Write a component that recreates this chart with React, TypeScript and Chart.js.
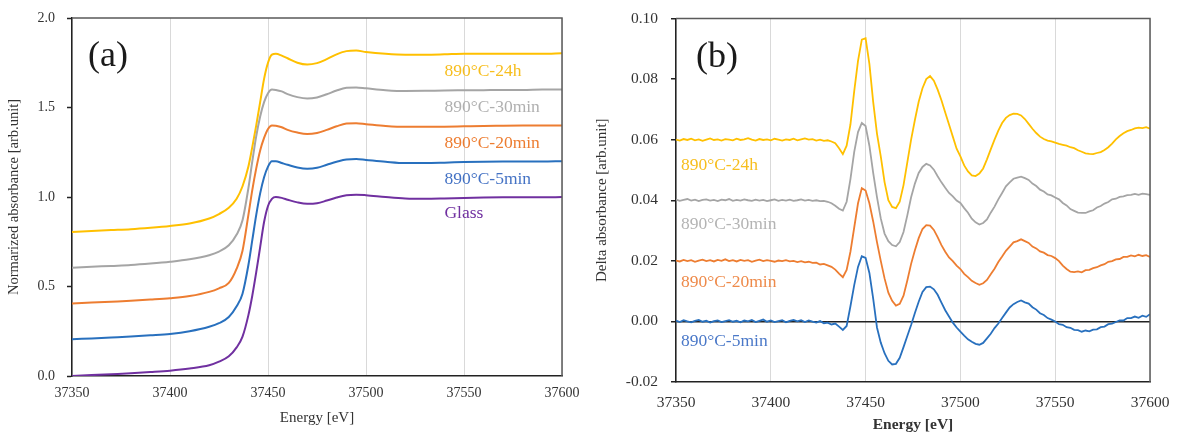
import React, { useEffect, useRef } from 'react';
import { Chart, registerables } from 'chart.js';

Chart.register(...registerables);

// ---------- Panel (a): normalized XANES ----------
const energyA = [
  37350, 37360, 37370, 37380, 37390, 37400, 37410, 37420, 37425, 37430,
  37434, 37437, 37440, 37442, 37444, 37446, 37448, 37450, 37452, 37454,
  37457, 37460, 37465, 37470, 37475, 37480, 37485, 37490, 37495, 37500,
  37510, 37520, 37530, 37540, 37550, 37560, 37570, 37580, 37590, 37600,
];
const glassA = [
  0.0, 0.005, 0.01, 0.015, 0.022, 0.03, 0.042, 0.06, 0.08, 0.11,
  0.16, 0.22, 0.34, 0.45, 0.58, 0.72, 0.86, 0.95, 0.99, 1.0,
  0.995, 0.985, 0.97, 0.962, 0.965, 0.98, 0.997, 1.01, 1.013, 1.01,
  1.0, 0.992, 0.99, 0.992, 0.995, 0.997, 0.998, 0.998, 0.998, 1.0,
];
const min5A = [
  0.205, 0.21, 0.215, 0.22, 0.227, 0.235, 0.25, 0.275, 0.295, 0.33,
  0.39, 0.46, 0.62, 0.76, 0.9, 1.02, 1.11, 1.17, 1.2, 1.2,
  1.19, 1.18, 1.165, 1.158, 1.163, 1.18, 1.197, 1.21, 1.212, 1.207,
  1.197, 1.19, 1.19, 1.192, 1.195, 1.197, 1.198, 1.198, 1.198, 1.2,
];
const min20A = [
  0.405, 0.41, 0.415, 0.42, 0.427, 0.435, 0.447, 0.47, 0.49, 0.52,
  0.6, 0.7, 0.9, 1.04, 1.16, 1.26, 1.33, 1.38, 1.4, 1.398,
  1.39, 1.375, 1.36, 1.352, 1.358, 1.375, 1.395, 1.41, 1.412, 1.407,
  1.397, 1.392, 1.392, 1.393, 1.395, 1.397, 1.398, 1.399, 1.4, 1.4,
];
const min30A = [
  0.605, 0.61, 0.615, 0.62, 0.628, 0.638, 0.652, 0.675, 0.695, 0.73,
  0.79, 0.87, 1.05, 1.2, 1.34, 1.45, 1.53, 1.58, 1.6, 1.598,
  1.59, 1.575, 1.558, 1.55, 1.556, 1.574, 1.595, 1.61, 1.612, 1.607,
  1.597, 1.592, 1.593, 1.595, 1.596, 1.597, 1.598, 1.598, 1.6, 1.6,
];
const h24A = [
  0.805, 0.81, 0.815, 0.82, 0.828, 0.838, 0.852, 0.88, 0.905, 0.94,
  0.99, 1.06, 1.17, 1.28, 1.4, 1.53, 1.66, 1.75, 1.795, 1.8,
  1.79, 1.775, 1.75, 1.74, 1.748, 1.77, 1.797, 1.815, 1.818, 1.81,
  1.8, 1.795, 1.795, 1.797, 1.8, 1.8, 1.8, 1.8, 1.8, 1.803,
];

// ---------- Panel (b): delta absorbance ----------
const energyB = [
  37350, 37352, 37354, 37356, 37358, 37360, 37362, 37364, 37366, 37368,
  37370, 37372, 37374, 37376, 37378, 37380, 37382, 37384, 37386, 37388,
  37390, 37392, 37394, 37396, 37398, 37400, 37402, 37404, 37406, 37408,
  37410, 37412, 37414, 37416, 37418, 37420, 37422, 37424, 37426, 37428,
  37430, 37432, 37434, 37436, 37438, 37440, 37442, 37444, 37446, 37448,
  37450, 37452, 37454, 37456, 37458, 37460, 37462, 37464, 37466, 37468,
  37470, 37472, 37474, 37476, 37478, 37480, 37482, 37484, 37486, 37488,
  37490, 37492, 37494, 37496, 37498, 37500, 37502, 37504, 37506, 37508,
  37510, 37512, 37514, 37516, 37518, 37520, 37522, 37524, 37526, 37528,
  37530, 37532, 37534, 37536, 37538, 37540, 37542, 37544, 37546, 37548,
  37550, 37552, 37554, 37556, 37558, 37560, 37562, 37564, 37566, 37568,
  37570, 37572, 37574, 37576, 37578, 37580, 37582, 37584, 37586, 37588,
  37590, 37592, 37594, 37596, 37598, 37600,
];
const min5B = [
  0.0003, -0.0002, 0.0004, 0.0, -0.0003, 0.0002, 0.0005, -0.0001, 0.0002, -0.0004,
  0.0001, 0.0003, -0.0002, 0.0001, 0.0004, -0.0001, 0.0002, -0.0003, 0.0003, 0.0,
  0.0005, -0.0002, 0.0002, 0.0006, -0.0001, 0.0003, -0.0002, 0.0001, 0.0004, -0.0003,
  0.0002, 0.0005, 0.0, 0.0004, -0.0002, 0.0003, -0.0001, -0.0004, 0.0001, -0.0006,
  -0.0004, -0.001, -0.0007, -0.0017, -0.0028, -0.0015, 0.005, 0.012, 0.018, 0.0215,
  0.021, 0.016, 0.0075, -0.002, -0.007, -0.0105, -0.013, -0.0142, -0.014, -0.012,
  -0.0085, -0.0048, -0.0012, 0.0028, 0.0065, 0.0097, 0.0113, 0.0115, 0.0106, 0.0088,
  0.0062, 0.0037, 0.0016, -0.0004, -0.002, -0.0034, -0.0047, -0.0059, -0.0067, -0.0074,
  -0.0077, -0.0071, -0.0056, -0.0041, -0.0022, -0.0007, 0.0011, 0.0029, 0.0046, 0.0057,
  0.0064, 0.0069, 0.0063, 0.0059, 0.0047, 0.0039, 0.0027, 0.0021, 0.0011, 0.0006,
  0.0, -0.0009, -0.0011, -0.0019, -0.0021, -0.0028, -0.0029, -0.0034, -0.003, -0.0033,
  -0.0027, -0.0026, -0.0019, -0.0017, -0.0009, -0.0007, -0.0002, 0.0003, 0.0003, 0.0011,
  0.0011, 0.0016, 0.0012, 0.0019, 0.0015, 0.0024,
];
const min20B = [
  0.0201, 0.0198, 0.0203, 0.0199, 0.0202, 0.0197, 0.0201, 0.0204, 0.0199, 0.0202,
  0.0198, 0.0203, 0.02, 0.0205, 0.0199, 0.0202, 0.0198, 0.0203, 0.02, 0.0202,
  0.0197, 0.0201, 0.0204, 0.0199, 0.0202, 0.02, 0.0197, 0.0201, 0.0199, 0.0202,
  0.0198, 0.02, 0.0196, 0.0199, 0.0195, 0.0197, 0.0193, 0.0194, 0.0188, 0.019,
  0.0185, 0.018, 0.0171, 0.0158, 0.0146, 0.017, 0.023, 0.031, 0.039, 0.044,
  0.0432, 0.039, 0.033, 0.0262, 0.02, 0.0142, 0.0095, 0.0068, 0.0052, 0.0058,
  0.0085, 0.0135, 0.019, 0.0235, 0.0275, 0.0305, 0.0318, 0.0316, 0.0302, 0.0278,
  0.0252, 0.023, 0.0211, 0.0199, 0.0184, 0.0173, 0.0157, 0.0146, 0.0134, 0.0127,
  0.0121, 0.0126, 0.0137, 0.0156, 0.0174, 0.0196, 0.0214, 0.0233, 0.0247, 0.0261,
  0.0265, 0.0271, 0.0265, 0.0259, 0.0247, 0.0241, 0.0231, 0.0227, 0.0219, 0.0216,
  0.0209, 0.0199, 0.0184, 0.0173, 0.0164, 0.0163, 0.0165, 0.0162, 0.0169, 0.017,
  0.0176, 0.0179, 0.0185, 0.0189, 0.0197, 0.0199, 0.0205, 0.0206, 0.0213, 0.0213,
  0.0218, 0.0215, 0.022, 0.0216, 0.0219, 0.0213,
];
const min30B = [
  0.0402, 0.0398, 0.0401, 0.0404, 0.0399, 0.0402, 0.0397, 0.0401, 0.0403, 0.0399,
  0.0401, 0.0397, 0.0402, 0.04, 0.0404, 0.0398, 0.0401, 0.0399, 0.0403, 0.04,
  0.0398, 0.0402, 0.0399, 0.0401, 0.0397, 0.04, 0.0403, 0.0398, 0.0401, 0.0399,
  0.0402, 0.0398, 0.04, 0.0403, 0.0399, 0.0401, 0.0398, 0.04, 0.0397, 0.0398,
  0.0395, 0.039, 0.0382, 0.0372, 0.0366, 0.0395, 0.047, 0.056, 0.0625, 0.0655,
  0.0645, 0.058, 0.049, 0.041, 0.034, 0.029, 0.0265, 0.0252, 0.0248, 0.0262,
  0.0295, 0.035, 0.041, 0.0455, 0.049, 0.051, 0.052, 0.0515, 0.0501, 0.0479,
  0.0459, 0.0441, 0.0424, 0.0413, 0.0399, 0.0391, 0.0374, 0.0359, 0.0339, 0.0327,
  0.032, 0.0325, 0.0337, 0.0359, 0.0379, 0.0403, 0.0424, 0.0446, 0.0459, 0.0471,
  0.0475, 0.0478, 0.0473, 0.0467, 0.0455, 0.0447, 0.0435, 0.0429, 0.0419, 0.0416,
  0.0409, 0.0403, 0.0391, 0.0383, 0.0371, 0.0365, 0.0359, 0.0358, 0.0358, 0.0363,
  0.0367, 0.0376, 0.0381, 0.0389, 0.0394, 0.0403, 0.0405, 0.0411, 0.0413, 0.0417,
  0.0418, 0.0421, 0.0418, 0.0422, 0.042, 0.0418,
];
const h24B = [
  0.06, 0.0597, 0.0602, 0.0599, 0.0603, 0.0598, 0.0601, 0.0596, 0.06, 0.0604,
  0.0599, 0.0601, 0.0597, 0.0602, 0.06, 0.0598, 0.0603, 0.0599, 0.0601, 0.0605,
  0.06, 0.0597, 0.0602, 0.0599, 0.0601, 0.0598, 0.0603, 0.06, 0.0597, 0.0601,
  0.0599, 0.0603, 0.0598, 0.0601, 0.0604, 0.06, 0.0602, 0.0597, 0.06, 0.0596,
  0.0598, 0.0594, 0.0588, 0.0572, 0.0552, 0.058, 0.065, 0.076, 0.086, 0.093,
  0.0935, 0.085, 0.0725, 0.062, 0.0545, 0.046, 0.04, 0.0378, 0.0374, 0.0395,
  0.045, 0.0525, 0.06, 0.0665, 0.0725, 0.077, 0.08, 0.081, 0.0795, 0.0765,
  0.073, 0.069, 0.065, 0.061, 0.057, 0.0545, 0.0515, 0.0495, 0.0482, 0.048,
  0.0488, 0.0505, 0.0535, 0.0568, 0.06, 0.063, 0.0655, 0.0672, 0.0681, 0.0686,
  0.0685, 0.068, 0.0668, 0.0652, 0.0636, 0.0622, 0.061, 0.0602, 0.0597, 0.0594,
  0.059, 0.0586, 0.0583, 0.058, 0.0575, 0.0572, 0.0565, 0.056, 0.0555, 0.0553,
  0.0552, 0.0556, 0.0559, 0.0566, 0.0575, 0.0587, 0.0601, 0.0612, 0.0621, 0.0628,
  0.0632, 0.0637, 0.064, 0.0638, 0.0641, 0.0636,
];

const SERIF = '"Liberation Serif", "Times New Roman", serif';

const pts = (xs: number[], ys: number[]) => xs.map((x, i) => ({ x, y: ys[i] }));

type Note = { text: string; x: number; y: number; color: string };

function decorPlugin(panel: string, dx: number, dy: number, notes: Note[], noteSize: number) {
  return {
    id: 'decor',
    afterDraw(chart: any) {
      const { ctx, chartArea: a, scales } = chart;
      ctx.save();
      ctx.strokeStyle = '#5a5a5a';
      ctx.lineWidth = 1.5;
      ctx.beginPath();
      ctx.moveTo(a.left, a.top);
      ctx.lineTo(a.right, a.top);
      ctx.lineTo(a.right, a.bottom);
      ctx.stroke();
      ctx.font = `${noteSize}px ${SERIF}`;
      ctx.textBaseline = 'middle';
      ctx.textAlign = 'left';
      for (const n of notes) {
        ctx.fillStyle = n.color;
        ctx.fillText(n.text, scales.x.getPixelForValue(n.x), scales.y.getPixelForValue(n.y));
      }
      ctx.font = `36px ${SERIF}`;
      ctx.fillStyle = '#1a1a1a';
      ctx.textAlign = 'center';
      ctx.fillText(panel, a.left + dx, a.top + dy);
      ctx.restore();
    },
  };
}

function lineDs(label: string, data: any[], color: string, width: number, smooth: boolean) {
  return {
    label,
    data,
    borderColor: color,
    backgroundColor: color,
    borderWidth: width,
    pointRadius: 0,
    fill: false,
    ...(smooth ? { cubicInterpolationMode: 'monotone' as const } : { tension: 0 }),
  };
}

export default function App() {
  const refA = useRef<HTMLCanvasElement>(null);
  const refB = useRef<HTMLCanvasElement>(null);

  useEffect(() => {
    const tickColor = '#333';
    const chartA = new Chart(refA.current as HTMLCanvasElement, {
      type: 'line',
      data: {
        datasets: [
          lineDs('Glass', pts(energyA, glassA), '#7030A0', 2, true),
          lineDs('890°C-5min', pts(energyA, min5A), '#2870BE', 2, true),
          lineDs('890°C-20min', pts(energyA, min20A), '#ED7D31', 2, true),
          lineDs('890°C-30min', pts(energyA, min30A), '#A5A5A5', 2, true),
          lineDs('890°C-24h', pts(energyA, h24A), '#FFC000', 2, true),
        ],
      },
      options: {
        responsive: false,
        animation: false,
        layout: { padding: { left: 0, right: 18, top: 18, bottom: 0 } },
        plugins: { legend: { display: false }, tooltip: { enabled: false } },
        scales: {
          x: {
            type: 'linear',
            min: 37350,
            max: 37600,
            afterFit: (s: any) => { s.height = 59; s.paddingLeft = 0; s.paddingRight = 0; },
            ticks: { stepSize: 50, callback: (v: any) => String(v), font: { family: SERIF, size: 14 }, color: tickColor, padding: 9, maxRotation: 0, autoSkip: false },
            grid: { color: '#D9D9D9', lineWidth: 1, drawTicks: false },
            border: { color: '#222', width: 1.5 },
            title: { display: true, text: 'Energy [eV]', font: { family: SERIF, size: 15 }, color: tickColor, padding: { top: 0, bottom: 8 } },
          },
          y: {
            min: 0,
            max: 2,
            afterFit: (s: any) => { s.width = 72; s.paddingTop = 0; s.paddingBottom = 0; },
            ticks: { stepSize: 0.5, callback: (v: any) => Number(v).toFixed(1), font: { family: SERIF, size: 14 }, color: tickColor, padding: 12 },
            grid: { drawOnChartArea: false, drawTicks: true, tickLength: 5, tickColor: '#222', tickWidth: 1.5 },
            border: { color: '#222', width: 1.5 },
            title: { display: true, text: 'Normarized absorbance [arb.unit]', font: { family: SERIF, size: 14.5 }, color: tickColor, padding: { top: 5, bottom: 0 } },
          },
        },
      },
      plugins: [
        decorPlugin('(a)', 36, 39, [
          { text: '890°C-24h', x: 37540, y: 1.70, color: '#F7BE1E' },
          { text: '890°C-30min', x: 37540, y: 1.50, color: '#B0B0B0' },
          { text: '890°C-20min', x: 37540, y: 1.30, color: '#ED7D31' },
          { text: '890°C-5min', x: 37540, y: 1.10, color: '#4472C4' },
          { text: 'Glass', x: 37540, y: 0.91, color: '#7030A0' },
        ], 17.5),
      ],
    } as any);

    const chartB = new Chart(refB.current as HTMLCanvasElement, {
      type: 'line',
      data: {
        datasets: [
          lineDs('890°C-5min', pts(energyB, min5B), '#2870BE', 1.8, false),
          lineDs('890°C-20min', pts(energyB, min20B), '#ED7D31', 1.8, false),
          lineDs('890°C-30min', pts(energyB, min30B), '#A5A5A5', 1.8, false),
          lineDs('890°C-24h', pts(energyB, h24B), '#FFC000', 1.8, false),
        ],
      },
      options: {
        responsive: false,
        animation: false,
        layout: { padding: { left: 0, right: 27, top: 18.5, bottom: 0 } },
        plugins: { legend: { display: false }, tooltip: { enabled: false } },
        scales: {
          x: {
            type: 'linear',
            min: 37350,
            max: 37600,
            afterFit: (s: any) => { s.height = 53; s.paddingLeft = 0; s.paddingRight = 0; },
            ticks: { stepSize: 50, callback: (v: any) => String(v), font: { family: SERIF, size: 15.5 }, color: tickColor, padding: 12, maxRotation: 0, autoSkip: false },
            grid: { color: '#D9D9D9', lineWidth: 1, drawTicks: false },
            border: { color: '#222', width: 1.5 },
            title: { display: true, text: 'Energy [eV]', font: { family: SERIF, size: 15.5, weight: 'bold' }, color: tickColor, padding: { top: 0, bottom: 1 } },
          },
          y: {
            min: -0.02,
            max: 0.1,
            afterFit: (s: any) => { s.width = 96; s.paddingTop = 0; s.paddingBottom = 0; },
            ticks: { stepSize: 0.02, callback: (v: any) => Number(v).toFixed(2), font: { family: SERIF, size: 15.5 }, color: tickColor, padding: 13 },
            grid: {
              drawOnChartArea: true,
              color: (c: any) => (c.tick && Math.abs(c.tick.value) < 1e-9 ? '#222' : 'rgba(0,0,0,0)'),
              lineWidth: 1.5,
              drawTicks: true,
              tickLength: 5,
              tickColor: '#222',
              tickWidth: 1.5,
            },
            border: { color: '#222', width: 1.5 },
            title: { display: true, text: 'Delta absorbance [arb.unit]', font: { family: SERIF, size: 15 }, color: tickColor, padding: { top: 13, bottom: 0 } },
          },
        },
      },
      plugins: [
        decorPlugin('(b)', 41, 39, [
          { text: '890°C-24h', x: 37352.6, y: 0.0516, color: '#F7BE1E' },
          { text: '890°C-30min', x: 37352.6, y: 0.0321, color: '#B4B4B4' },
          { text: '890°C-20min', x: 37352.6, y: 0.0129, color: '#EE8A4A' },
          { text: '890°C-5min', x: 37352.6, y: -0.0066, color: '#4A78C8' },
        ], 17.5),
      ],
    } as any);

    return () => {
      chartA.destroy();
      chartB.destroy();
    };
  }, []);

  return (
    <div style={{ position: 'absolute', left: 0, top: 0, width: 1177, height: 435, background: '#fff' }}>
      <canvas ref={refA} width={580} height={435} style={{ position: 'absolute', left: 0, top: 0, width: 580, height: 435 }} />
      <canvas ref={refB} width={597} height={435} style={{ position: 'absolute', left: 580, top: 0, width: 597, height: 435 }} />
    </div>
  );
}
